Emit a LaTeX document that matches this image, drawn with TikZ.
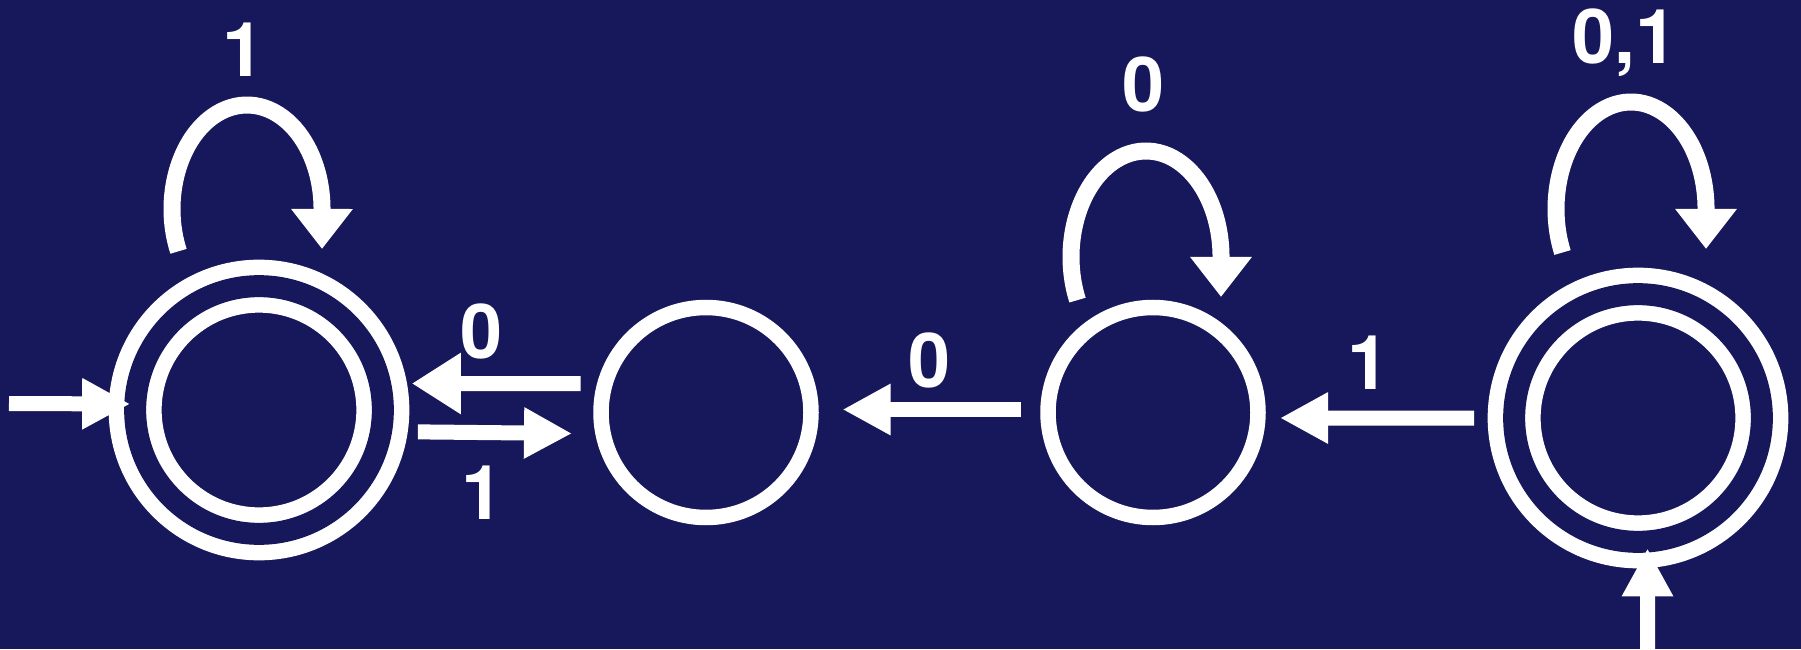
\documentclass[tikz,border=0pt]{standalone}
\usepackage{fontspec}
\setmainfont{TeX Gyre Heros}
\usetikzlibrary{arrows.meta}
\definecolor{navybg}{RGB}{23,23,91}

\begin{document}
\begin{tikzpicture}[
  font=\fontsize{21.5}{26}\selectfont\bfseries,
  state/.style={
    circle, draw=white, line width=0.155cm,
    minimum size=2.1cm, inner sep=0pt, outer sep=0pt
  },
  accepting/.style={
    state, double=navybg, double distance=0.22cm,
    minimum size=2.477cm
  },
  trans/.style={-{Triangle[length=0.48cm, width=0.48cm]}, draw=white, line width=0.15cm},
  widetip/.style={-{Triangle[length=0.49cm, width=0.58cm]}},
  loopline/.style={-{Triangle[length=0.40cm, width=0.59cm]}, draw=white, line width=0.17cm},
  lbl/.style={text=white, anchor=base, inner sep=0pt}
]

\useasboundingbox (0,0) rectangle (18.01,6.49);
\fill[navybg] (0,0) rectangle (18.01,6.49);

% states
\node[accepting] (A) at (2.59,2.39) {};
\node[state] (B) at (7.06,2.365) {};
\node[state] (C) at (11.53,2.365) {};
\node[accepting] (D) at (16.38,2.31) {};

% start pointers
\coordinate (inA) at (0.09,2.455);
\coordinate (inD) at (16.475,0);
\draw[trans, shorten >=0.5mm] (inA) -- ([yshift=0.6mm]A.west);
\draw[trans, shorten >=0.65mm] (inD) -- ([xshift=0.95mm]D.south);

% transitions
\draw[trans, widetip, shorten <=2.05mm, shorten >=2.9mm] ([yshift=2.9mm]B.west) -- ([yshift=2.65mm]A.east);
\draw[trans, shorten <=3.5mm, shorten >=2.9mm] ([yshift=-2.15mm]A.east) -- ([yshift=-2.13mm]B.west);
\draw[trans, shorten <=2.7mm, shorten >=3.15mm] ([yshift=0.3mm]C.west) -- ([yshift=0.3mm]B.east);
\draw[trans, shorten <=4mm, shorten >=2.2mm] (D.west) -- ([yshift=-0.55mm]C.east);

% self loops
\draw[loopline] ([shift={(-0.805,1.587)}]A.center) arc[start angle=204, end angle=0, x radius=0.75, y radius=1.04] -- ++(0,-0.4);
\draw[loopline] ([shift={(-0.755,1.124)}]C.center) arc[start angle=204, end angle=0, x radius=0.75, y radius=1.06] -- ++(0,-0.4);
\draw[loopline] ([shift={(-0.755,1.655)}]D.center) arc[start angle=204, end angle=0, x radius=0.75, y radius=1.07] -- ++(0,-0.4);

% labels
\node[lbl] (lA) at (2.44,5.724) {1};
\node[lbl] (lC) at (11.433,5.372) {0};
\node[lbl] (lD) at (16.245,5.85) {0,1};
\node[lbl] (lBA) at (4.818,2.91) {0};
\node[lbl] (lAB) at (4.83,1.295) {1};
\node[lbl] (lCB) at (9.295,2.62) {0};
\node[lbl] (lDC) at (13.68,2.60) {1};

\end{tikzpicture}
\end{document}
